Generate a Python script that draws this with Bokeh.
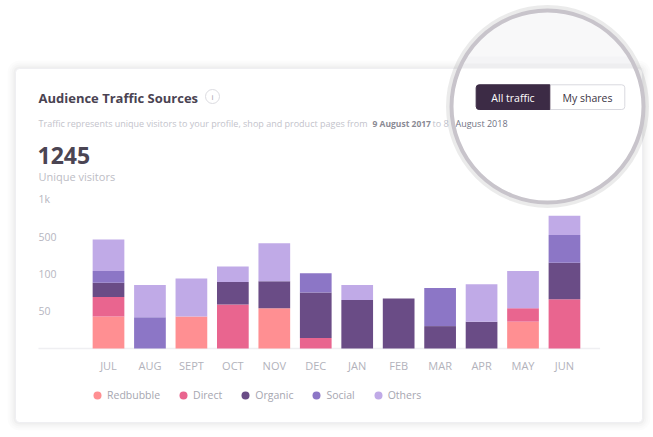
import numpy as np
from bokeh.plotting import figure
from bokeh.models import Range1d, ColumnDataSource, Legend, LegendItem
from bokeh.core.properties import value
from bokeh.embed import file_html
from bokeh.resources import INLINE

# ---------------- data ----------------
months = ["JUL", "AUG", "SEPT", "OCT", "NOV", "DEC", "JAN", "FEB", "MAR", "APR", "MAY", "JUN"]
series = ["Redbubble", "Direct", "Organic", "Social", "Others"]
redbubble = [43, 0, 43, 0, 54, 0, 0, 0, 0, 0, 36, 0]
direct = [26, 0, 0, 59, 0, 14, 0, 0, 0, 0, 18, 66]
organic = [19, 0, 0, 30, 36, 61, 65, 67, 30, 36, 0, 49]
social = [16, 42, 0, 0, 0, 26, 0, 0, 51, 0, 0, 37]
others = [42, 43, 51, 21, 51, 0, 20, 0, 0, 50, 50, 26]
colors = ["#FF8F92", "#E9658F", "#6A4C86", "#8C76C6", "#C0AAE7"]
tick_values = [50, 100, 150, 200]
tick_labels = ["50", "100", "500", "1k"]
total_visitors = "1245"

FONT = "Open Sans"
W, H = 653, 437

src = ColumnDataSource(dict(x=list(range(len(months))), month=months,
                            Redbubble=redbubble, Direct=direct, Organic=organic,
                            Social=social, Others=others))

p = figure(width=W, height=H,
           x_range=Range1d(-2.6055, 13.148), y_range=Range1d(-119.3, 466.5),
           x_axis_type=None, y_axis_type=None,
           toolbar_location=None, output_backend="svg",
           min_border=0, outline_line_color=None,
           background_fill_color="white", border_fill_color="white")
# page-pixel coordinate system for the decoration around the chart
p.extra_x_ranges = {"px": Range1d(0, W)}
p.extra_y_ranges = {"px": Range1d(H, 0)}
PX = dict(x_range_name="px", y_range_name="px")

# ---------------- card ----------------
for d, a in [(8, 0.01), (6, 0.012), (4, 0.016), (2, 0.025)]:
    p.quad(left=[15 - d], right=[642 + d], top=[68 - d], bottom=[422 + d],
           fill_color="black", fill_alpha=a, line_color=None, border_radius=4 + d, **PX)
p.quad(left=[15], right=[642], top=[68], bottom=[422], fill_color="white",
       line_color="#efeff2", line_width=1, border_radius=4, **PX)

def txt(x, y, s, size, color, bold=False, align="left"):
    p.text(x=[x], y=[y], text=[s], text_font=value(FONT), text_font_size=size,
           text_color=color, text_font_style="bold" if bold else "normal",
           text_align=align, text_baseline="middle", **PX)

txt(38, 97, "Audience Traffic Sources", "13px", "#4a4352", bold=True)
p.circle(x=[212], y=[96], radius=7, radius_units="screen", fill_color="white",
         line_color="#dcdce1", line_width=1, **PX)
txt(212, 96, "i", "8px", "#9a9aa4", align="center")

txt(38, 123, "Traffic represents unique visitors to your profile, shop and product pages from",
    "9px", "#c3c3cb")
txt(372, 123, "9 August 2017", "8.5px", "#8a8a94", bold=True)
txt(432, 123, "to 8", "9px", "#c3c3cb")

txt(37, 155, total_visitors, "23px", "#4b4553", bold=True)
txt(38, 176, "Unique visitors", "11px", "#bdbdc5")

# ---------------- chart ----------------
x_left = -1.69
x_right = 11.86
p.segment(x0=[x_left], y0=[0], x1=[x_right], y1=[0], line_color="#efeff2", line_width=1.5)
p.text(x=[x_left] * len(tick_values), y=tick_values, text=tick_labels,
       text_font=value(FONT), text_font_size="10.5px", text_color="#b6b6bf",
       text_align="left", text_baseline="middle")

p.vbar_stack(series, x="x", width=0.765, fill_color=colors, line_color=None, source=src)

p.text(x="x", y=0, text="month", source=src, y_offset=17,
       text_font=value(FONT), text_font_size="11px", text_color="#b2b2bb",
       text_align="center", text_baseline="middle")

# legend (dot markers; the NaN point is never drawn in the plot)
leg_renderers = [p.scatter(x=np.array([np.nan]), y=np.array([np.nan]), marker="circle",
                           size=8, fill_color=c, line_color=None) for c in colors]
legend = Legend(items=[LegendItem(label=s, renderers=[r]) for s, r in zip(series, leg_renderers)],
                orientation="horizontal", location=(87, 32),
                glyph_width=20, glyph_height=20, label_standoff=0, spacing=13,
                padding=0, margin=0, border_line_color=None, background_fill_alpha=0,
                label_text_font=FONT, label_text_font_size="10.5px", label_text_color="#a6a6b0",
                label_height=20)
p.add_layout(legend)

# ---------------- magnifier ----------------
cx, cy, r = 547, 106, 96
p.circle(x=[cx], y=[cy], radius=r + 3, radius_units="screen", fill_color=None,
         line_color="black", line_alpha=0.08, line_width=5, **PX)
p.circle(x=[cx], y=[cy], radius=r, radius_units="screen", fill_color="white",
         line_color=None, **PX)

def cap(y_edge, color):
    s = (y_edge - cy) / (r - 1)
    t0 = np.pi + np.arcsin(-s)
    t1 = 2 * np.pi - np.arcsin(-s)
    t = np.linspace(t0, t1, 80)
    p.patch(x=cx + (r - 1) * np.cos(t), y=cy + (r - 1) * np.sin(t),
            fill_color=color, line_color=None, **PX)

cap(68, "#eeeef0")
cap(63, "#f4f4f6")
cap(56, "#f8f8f9")

p.quad(left=[475.7], right=[624.3], top=[84.3], bottom=[109], fill_color="white",
       line_color="#d9d9df", line_width=1, border_radius=3, **PX)
p.quad(left=[475.7], right=[549.3], top=[84.3], bottom=[109], fill_color="#3C2B45",
       line_color="#3C2B45", line_width=1, border_radius=(3, 0, 0, 3), **PX)
txt(512.5, 97, "All traffic", "10.5px", "white", align="center")
txt(587, 97, "My shares", "10.5px", "#3a3342", align="center")
txt(455, 123, "August 2018", "9px", "#6f7283")

p.circle(x=[cx], y=[cy], radius=r, radius_units="screen", fill_color=None,
         line_color="#c8c4cb", line_width=4, **PX)

open("out.html", "w").write(file_html(p, INLINE))
